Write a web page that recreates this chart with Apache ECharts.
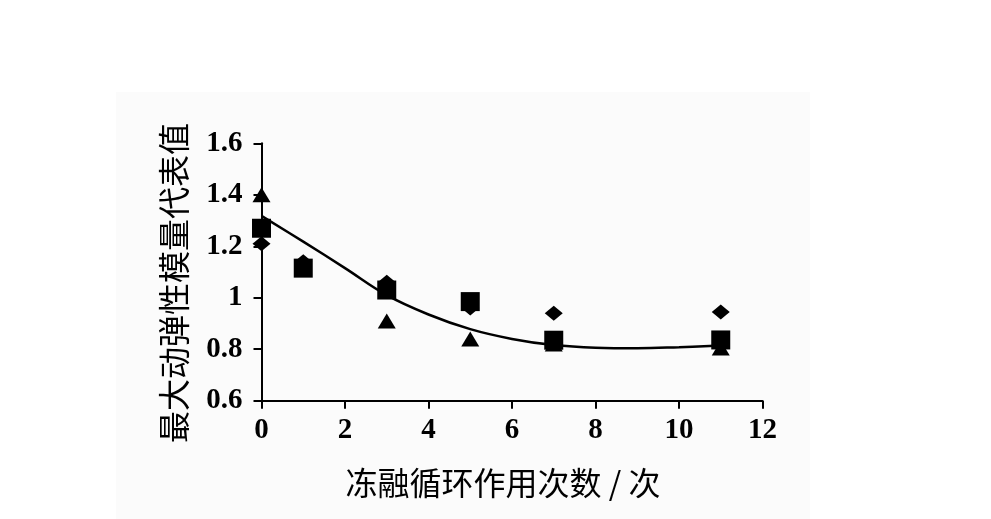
<!DOCTYPE html>
<html>
<head>
<meta charset="utf-8">
<script src="https://cdn.jsdelivr.net/npm/echarts@6/dist/echarts.min.js"></script>
<style>html,body{margin:0;padding:0;background:#fff;}#c{width:991px;height:519px;}</style>
</head>
<body>
<div id="c"></div>
<script>
// Data
const xTicks = [0, 2, 4, 6, 8, 10, 12];
const yTicks = [0.6, 0.8, 1, 1.2, 1.4, 1.6];
const cycles = [0, 1, 3, 5, 7, 11];
const diamondVals = [1.21, 1.14, 1.06, 0.96, 0.94, 0.945];
const squareVals = [1.27, 1.115, 1.03, 0.985, 0.835, 0.836];
const triangleVals = [1.40, 1.12, 0.91, 0.84, 0.82, 0.805];
const fitX = [0, 1, 2, 3, 4, 5, 6, 7, 8, 9, 10, 11];
const fitY = [1.318, 1.218, 1.115, 1.01, 0.935, 0.878, 0.84, 0.816, 0.806, 0.804, 0.808, 0.814];
const xTitle = '冻融循环作用次数 / 次';
const yTitle = '最大动弹性模量代表值';

const pair = (xs, ys) => xs.map((x, i) => [x, ys[i]]);

const chart = echarts.init(document.getElementById('c'));
const numFont = { fontFamily: 'Liberation Serif', fontSize: 29, fontWeight: 'bold', color: '#000' };
const axisCommon = {
  type: 'value',
  axisLine: { show: true, onZero: false, lineStyle: { color: '#000', width: 2 } },
  axisTick: { show: true, inside: false, length: 8, lineStyle: { color: '#000', width: 2 } },
  splitLine: { show: false }
};
const markStyle = { color: '#000', opacity: 1 };
chart.setOption({
  backgroundColor: '#fff',
  animation: false,
  graphic: [
    { type: 'rect', z: -10, shape: { x: 116, y: 92, width: 694, height: 427 }, style: { fill: '#fbfbfb' } },
    { type: 'text', x: 174, y: 283, rotation: Math.PI / 2,
      style: { text: yTitle, fontFamily: 'Noto Sans CJK SC', fontSize: 32, fill: '#000', align: 'center', verticalAlign: 'middle' } },
    { type: 'text', x: 503, y: 483,
      style: { text: xTitle, fontFamily: 'Noto Sans CJK SC', fontSize: 32, fill: '#000', align: 'center', verticalAlign: 'middle' } }
  ],
  grid: { left: 261.5, top: 143.3, width: 501, height: 257.4 },
  xAxis: Object.assign({}, axisCommon, {
    min: xTicks[0], max: xTicks[xTicks.length - 1], interval: xTicks[1] - xTicks[0],
    axisLabel: Object.assign({ margin: 15 }, numFont)
  }),
  yAxis: Object.assign({}, axisCommon, {
    min: yTicks[0], max: yTicks[yTicks.length - 1], interval: 0.2,
    axisLabel: Object.assign({ margin: 19, formatter: v => String(+v.toFixed(1)) }, numFont)
  }),
  series: [
    { type: 'line', data: pair(fitX, fitY), smooth: 0.4, symbol: 'none', z: 2,
      lineStyle: { color: '#000', width: 2.5 } },
    { type: 'scatter', data: pair(cycles, triangleVals), symbol: 'triangle', symbolSize: [18, 15], z: 3,
      itemStyle: markStyle },
    { type: 'scatter', data: pair(cycles, squareVals), symbol: 'rect', symbolSize: 19, z: 4,
      itemStyle: markStyle },
    { type: 'scatter', data: pair(cycles, diamondVals), symbol: 'diamond', symbolSize: [18, 15], z: 5,
      itemStyle: markStyle }
  ]
});
</script>
</body>
</html>
